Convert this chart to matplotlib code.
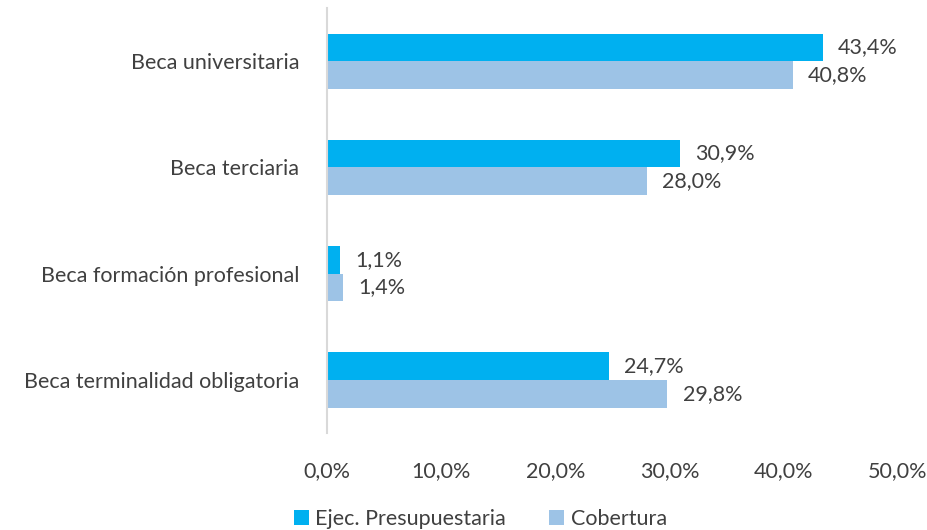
import matplotlib
matplotlib.use("Agg")
import matplotlib.pyplot as plt
import numpy as np

plt.rcParams['font.family'] = ['Lato', 'DejaVu Sans']

categories = [
    "Beca universitaria",
    "Beca terciaria",
    "Beca formación profesional",
    "Beca terminalidad obligatoria",
]
ejec = [43.4, 30.9, 1.1, 24.7]
cobertura = [40.8, 28.0, 1.4, 29.8]
series_names = ["Ejec. Presupuestaria", "Cobertura"]
ticks = [0, 10, 20, 30, 40, 50]

C_EJEC = "#00B0F0"
C_COB = "#9DC3E6"
TXT = "#404040"
FS = 15.5


def fmt(v):
    return f"{v:.1f}%".replace(".", ",")


fig = plt.figure(figsize=(9.27, 5.30), dpi=100)
ax = fig.add_axes([327 / 927, 1 - 433 / 530, (898 - 327) / 927, (433 - 8) / 530])

y = np.arange(len(categories))
h = 0.26
b1 = ax.barh(y - h / 2, ejec, height=h, color=C_EJEC, label=series_names[0])
b2 = ax.barh(y + h / 2, cobertura, height=h, color=C_COB, label=series_names[1])

for bars, vals in ((b1, ejec), (b2, cobertura)):
    for bar, v in zip(bars, vals):
        ax.annotate(fmt(v), (bar.get_width(), bar.get_y() + bar.get_height() / 2),
                    xytext=(11, 0), textcoords="offset points",
                    va="center", ha="left", fontsize=FS, color=TXT)

ax.set_ylim(len(categories) - 0.5, -0.5)
ax.set_xlim(0, 50)
ax.set_yticks(y)
ax.set_yticklabels(categories)
ax.set_xticks(ticks)
ax.set_xticklabels([fmt(t) for t in ticks])
ax.tick_params(axis="y", length=0, pad=20, labelsize=FS, labelcolor=TXT)
ax.tick_params(axis="x", length=0, pad=20, labelsize=FS, labelcolor=TXT)

for side in ("top", "right", "bottom"):
    ax.spines[side].set_visible(False)
ax.spines["left"].set_color("#D9D9D9")
ax.spines["left"].set_linewidth(1.5)

fig.legend(loc="lower center", bbox_to_anchor=(0.518, -0.035), ncol=2, frameon=False,
           fontsize=FS, handlelength=0.7, handleheight=0.7, handletextpad=0.3,
           columnspacing=2.0, labelcolor=TXT)

fig.savefig("out.png", dpi=100)
